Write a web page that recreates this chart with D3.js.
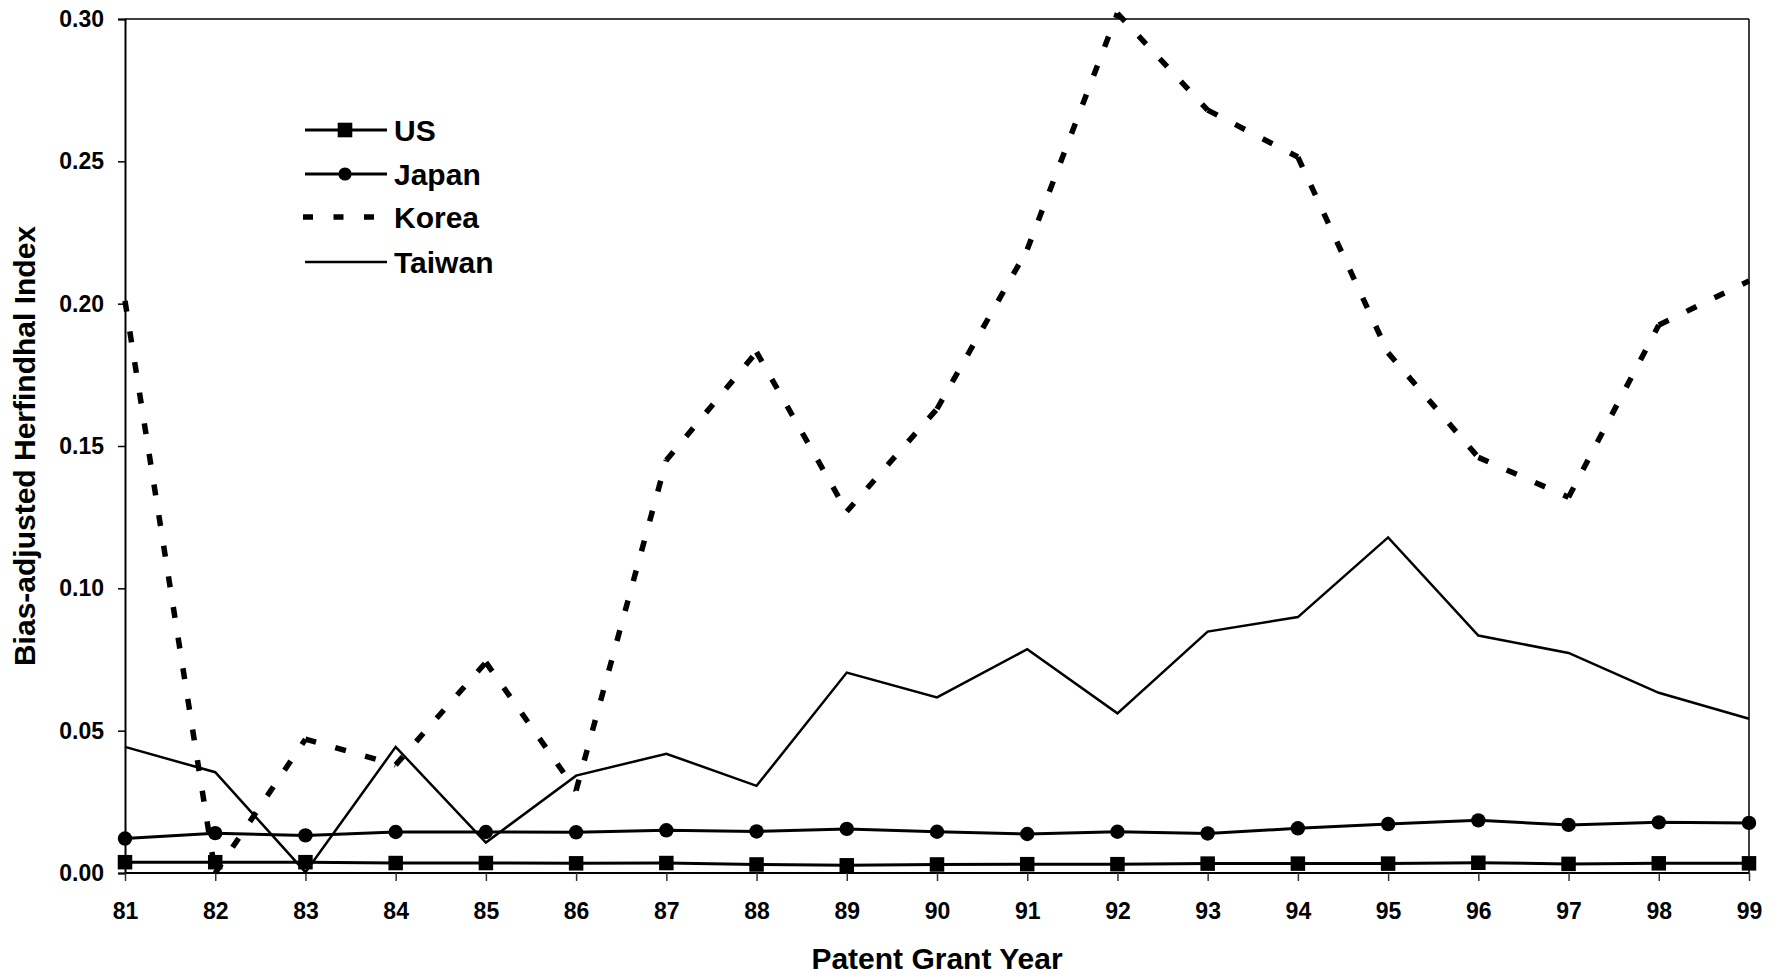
<!DOCTYPE html>
<html>
<head>
<meta charset="utf-8">
<script src="https://cdn.jsdelivr.net/npm/d3@7"></script>
<style>
  html, body { margin: 0; padding: 0; background: #fff; }
  svg text { font-family: "Liberation Sans", Arial, sans-serif; font-weight: bold; fill: #000; }
</style>
</head>
<body>
<svg id="chart" width="1784" height="976"></svg>
<script>
const years = ["81","82","83","84","85","86","87","88","89","90","91","92","93","94","95","96","97","98","99"];
const usValues = [0.0038,0.0038,0.0038,0.0035,0.0035,0.0034,0.0035,0.0030,0.0027,0.0030,0.0031,0.0031,0.0033,0.0033,0.0033,0.0036,0.0032,0.0034,0.0034];
const japanValues = [0.0121,0.0140,0.0132,0.0144,0.0144,0.0143,0.0150,0.0146,0.0155,0.0145,0.0137,0.0145,0.0139,0.0157,0.0172,0.0185,0.0169,0.0178,0.0176];
const koreaValues = [0.201,0.000,0.047,0.038,0.074,0.029,0.145,0.183,0.127,0.163,0.219,0.302,0.268,0.2515,0.1827,0.146,0.132,0.1925,0.208];
const taiwanValues = [0.0443,0.0354,0.0003,0.0443,0.0107,0.0342,0.0419,0.0306,0.0704,0.0617,0.0786,0.0561,0.0848,0.0899,0.1179,0.0834,0.0773,0.0633,0.0542];
const yTicks = [0.00,0.05,0.10,0.15,0.20,0.25,0.30];
const seriesNames = ["US","Japan","Korea","Taiwan"];
const xTitle = "Patent Grant Year";
const yTitle = "Bias-adjusted Herfindhal Index";

const svg = d3.select("#chart");
const L = 125, R = 1749, T = 19, B = 873;

const x = d3.scalePoint().domain(years).range([L, R]);
const y = d3.scaleLinear().domain([0, 0.30]).range([B, T]);

// frame (top and right)
svg.append("line").attr("x1", L).attr("x2", R).attr("y1", T).attr("y2", T)
  .attr("stroke", "#000").attr("stroke-width", 1.5);
svg.append("line").attr("x1", R).attr("x2", R).attr("y1", T).attr("y2", B)
  .attr("stroke", "#000").attr("stroke-width", 1.5);

// y axis
const yAxis = d3.axisLeft(y).tickValues(yTicks).tickFormat(d3.format(".2f")).tickSize(7).tickPadding(14);
const gy = svg.append("g").attr("transform", `translate(${L},0)`).call(yAxis);
gy.select(".domain").attr("stroke", "#000").attr("stroke-width", 2);
gy.selectAll(".tick line").attr("stroke", "#000").attr("stroke-width", 1.5);
gy.selectAll(".tick text").style("font-size", "23px").attr("fill", "#000");

// x axis
const xAxis = d3.axisBottom(x).tickSize(8).tickPadding(22);
const gx = svg.append("g").attr("transform", `translate(0,${B})`).call(xAxis);
gx.select(".domain").attr("stroke", "#000").attr("stroke-width", 2).attr("d", `M${L},0H${R}`);
gx.selectAll(".tick line").attr("stroke", "#333").attr("stroke-width", 1.5);
gx.selectAll(".tick text").style("font-size", "23px").attr("fill", "#000");

// titles
svg.append("text").attr("x", (L + R) / 2).attr("y", 969).attr("text-anchor", "middle")
  .style("font-size", "30px").text(xTitle);
svg.append("text").attr("transform", `translate(35,${(T + B) / 2}) rotate(-90)`)
  .attr("text-anchor", "middle").style("font-size", "30px").text(yTitle);

const line = d3.line().x((d, i) => x(years[i])).y(d => y(d));

// Taiwan: thin solid
svg.append("path").datum(taiwanValues).attr("d", line)
  .attr("fill", "none").attr("stroke", "#000").attr("stroke-width", 2.5).attr("stroke-linejoin", "miter");

// Korea: thick dashed, pattern restarts per segment
const koreaPts = koreaValues.map((v, i) => [x(years[i]), y(v)]);
svg.append("g").selectAll("path").data(d3.pairs(koreaPts)).join("path")
  .attr("d", d => d3.line()(d))
  .attr("fill", "none").attr("stroke", "#000").attr("stroke-width", 5.5)
  .attr("stroke-dasharray", "11,20");

// Japan: line + circles
svg.append("path").datum(japanValues).attr("d", line)
  .attr("fill", "none").attr("stroke", "#000").attr("stroke-width", 3);
svg.append("g").selectAll("circle").data(japanValues).join("circle")
  .attr("cx", (d, i) => x(years[i])).attr("cy", d => y(d)).attr("r", 7.2).attr("fill", "#000");

// US: line + squares
svg.append("path").datum(usValues).attr("d", line)
  .attr("fill", "none").attr("stroke", "#000").attr("stroke-width", 3);
const sq = 14.5;
svg.append("g").selectAll("rect").data(usValues).join("rect")
  .attr("x", (d, i) => x(years[i]) - sq / 2).attr("y", d => y(d) - sq / 2)
  .attr("width", sq).attr("height", sq).attr("fill", "#000");

// legend
const legY = [130, 174, 217, 262];
const lx1 = 305, lx2 = 387, ltx = 394;
const leg = svg.append("g");
seriesNames.forEach((name, i) => {
  const yy = legY[i];
  if (name === "Korea") {
    leg.append("line").attr("x1", 303).attr("x2", 375).attr("y1", yy).attr("y2", yy)
      .attr("stroke", "#000").attr("stroke-width", 5.5).attr("stroke-dasharray", "10,20.5");
  } else {
    leg.append("line").attr("x1", lx1).attr("x2", lx2).attr("y1", yy).attr("y2", yy)
      .attr("stroke", "#000").attr("stroke-width", name === "Taiwan" ? 2.5 : 3);
  }
  if (name === "US") {
    leg.append("rect").attr("x", 345 - 7.3).attr("y", yy - 7.3).attr("width", 14.6).attr("height", 14.6).attr("fill", "#000");
  } else if (name === "Japan") {
    leg.append("circle").attr("cx", 345).attr("cy", yy).attr("r", 6.6).attr("fill", "#000");
  }
  leg.append("text").attr("x", ltx).attr("y", yy + 11).style("font-size", "30px").text(name);
});
</script>
</body>
</html>
